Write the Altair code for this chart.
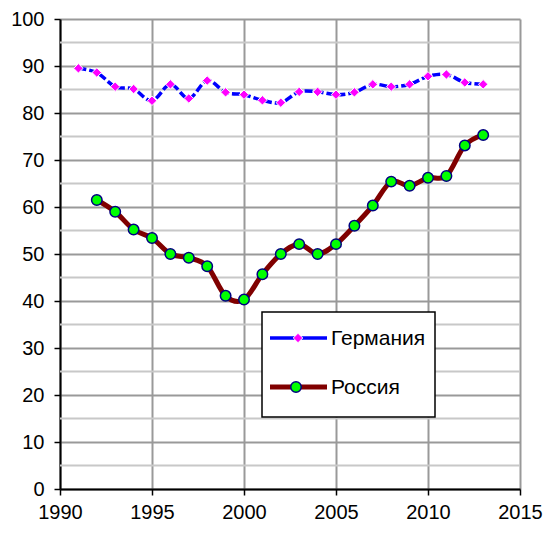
import altair as alt
import pandas as pd

# ---- data ----
years_de = list(range(1991, 2014))
germany = [89.5, 88.6, 85.6, 85.1, 82.6, 86.1, 83.1, 86.9, 84.4, 83.9, 82.7, 82.2,
           84.5, 84.5, 83.9, 84.4, 86.1, 85.6, 86.1, 87.8, 88.2, 86.5, 86.1]
years_ru = list(range(1992, 2014))
russia = [61.5, 59.0, 55.2, 53.4, 50.0, 49.2, 47.4, 41.1, 40.3, 45.7, 50.0,
          52.1, 50.0, 52.1, 56.0, 60.3, 65.4, 64.5, 66.2, 66.6, 73.1, 75.3]
series_names = ["Германия", "Россия"]
x_ticks = [1990, 1995, 2000, 2005, 2010, 2015]
y_ticks = list(range(0, 101, 10))
y_minor = list(range(5, 100, 10))

FONT = "Liberation Sans"

df_de = pd.DataFrame({"year": years_de, "value": germany, "series": series_names[0]})
df_ru = pd.DataFrame({"year": years_ru, "value": russia, "series": series_names[1]})
df_minor = pd.DataFrame({"v": y_minor})
df_leg_de = pd.DataFrame({"series": [series_names[0]]})
df_leg_ru = pd.DataFrame({"series": [series_names[1]]})
df_box = pd.DataFrame({"k": [0]})

xscale = alt.Scale(domain=[1990, 2015], nice=False, zero=False)
yscale = alt.Scale(domain=[0, 100], nice=False, zero=True)

X = alt.X("year:Q", scale=xscale,
          axis=alt.Axis(values=x_ticks, format="d", title=None, grid=True,
                        labelFlush=False, labelOverlap=False))
Y = alt.Y("value:Q", scale=yscale,
          axis=alt.Axis(values=y_ticks, title=None, grid=True,
                        labelFlush=False, labelOverlap=False))

minor = alt.Chart(df_minor).mark_rule(color="#c8c8c8", strokeWidth=2).encode(
    y=alt.Y("v:Q", scale=yscale, axis=alt.Axis(values=y_ticks, title=None, grid=True,
                                               labelFlush=False, labelOverlap=False))
)

de_line = alt.Chart(df_de).mark_line(
    color="#0000ff", strokeWidth=3.5, strokeDash=[8, 3], interpolate="cardinal"
).encode(x=X, y=Y)
de_pts = alt.Chart(df_de).mark_point(
    shape="diamond", filled=True, fill="#ff00ff", stroke="white",
    strokeWidth=1, size=90, opacity=1
).encode(x=X, y=Y)

ru_line = alt.Chart(df_ru).mark_line(
    color="#800000", strokeWidth=5, interpolate="cardinal"
).encode(x=X, y=Y)
ru_pts = alt.Chart(df_ru).mark_point(
    shape="circle", filled=True, fill="#00ff00", stroke="#000080",
    strokeWidth=1.5, size=110, opacity=1
).encode(x=X, y=Y)

# ---- legend box (drawn in pixel space) ----
box = alt.Chart(df_box).mark_rect(fill="white", stroke="black", strokeWidth=1.5).encode(
    x=alt.value(202), x2=alt.value(375), y=alt.value(293), y2=alt.value(398)
)
leg_de_line = alt.Chart(df_leg_de).mark_rule(color="#0000ff", strokeWidth=3.5).encode(
    x=alt.value(210), x2=alt.value(267), y=alt.value(319)
)
leg_de_pt = alt.Chart(df_leg_de).mark_point(
    shape="diamond", filled=True, fill="#ff00ff", stroke="white",
    strokeWidth=1, size=90, opacity=1
).encode(x=alt.value(238), y=alt.value(319))
leg_de_txt = alt.Chart(df_leg_de).mark_text(
    align="left", baseline="middle", font=FONT, fontSize=21, color="black"
).encode(x=alt.value(271), y=alt.value(320), text="series:N")

leg_ru_line = alt.Chart(df_leg_ru).mark_rule(color="#800000", strokeWidth=5).encode(
    x=alt.value(210), x2=alt.value(267), y=alt.value(368)
)
leg_ru_pt = alt.Chart(df_leg_ru).mark_point(
    shape="circle", filled=True, fill="#00ff00", stroke="#000080",
    strokeWidth=1.5, size=110, opacity=1
).encode(x=alt.value(236), y=alt.value(368))
leg_ru_txt = alt.Chart(df_leg_ru).mark_text(
    align="left", baseline="middle", font=FONT, fontSize=21, color="black"
).encode(x=alt.value(271), y=alt.value(369), text="series:N")

chart = alt.layer(
    minor, de_line, de_pts, ru_line, ru_pts,
    box, leg_de_line, leg_de_pt, leg_de_txt, leg_ru_line, leg_ru_pt, leg_ru_txt
).properties(
    width=460, height=470,
    autosize=alt.AutoSizeParams(type="none"),
    padding={"left": 52, "top": 11, "right": 23, "bottom": 35},
    background="white",
).configure_view(
    strokeWidth=0
).configure_axis(
    labelFont=FONT, labelFontSize=20, labelColor="black",
    domainColor="black", domainWidth=2,
    tickColor="black", tickWidth=1.5, tickSize=6,
    gridColor="#999999", gridWidth=2,
).configure_axisY(
    labelPadding=10
).configure_axisX(
    labelPadding=23, labelBaseline="alphabetic"
)

chart.save("out.html", embed_options={"renderer": "svg", "actions": False})
